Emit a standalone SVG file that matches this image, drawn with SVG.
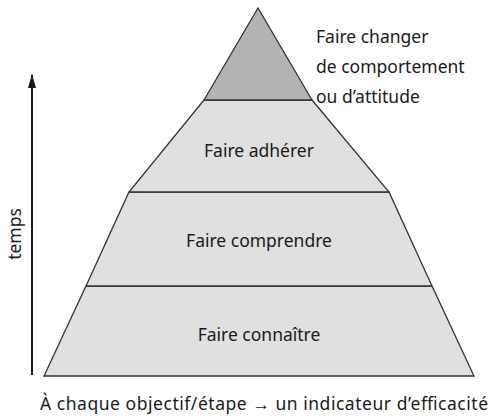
<svg xmlns="http://www.w3.org/2000/svg" width="492" height="420" viewBox="0 0 492 420">
<style>
text{font-family:"Noto Sans","Liberation Sans",sans-serif;font-size:17.5px;fill:#1a1a1a}
.c{text-anchor:middle}
.lvl{fill:#e0e0e0;stroke:#333;stroke-width:1.3}
.top{fill:#b3b3b3;stroke:#333;stroke-width:1.3}
</style>
<defs>
<marker id="ah" markerWidth="14" markerHeight="8" refX="0" refY="0" orient="auto" markerUnits="userSpaceOnUse" viewBox="-13 -4 14 8">
<path d="M-13,-4 L1,0 L-13,4 Z" fill="#1a1a1a"/>
</marker>
</defs>
<g id="level4">
<polygon class="lvl" points="44,376 474,376 432,286 86,286"/>
<text class="c" x="259" y="341">Faire connaître</text>
</g>
<g id="level3">
<polygon class="lvl" points="86,286 432,286 389,192 129,192"/>
<text class="c" x="259" y="247">Faire comprendre</text>
</g>
<g id="level2">
<polygon class="lvl" points="129,192 389,192 312,100 204,100"/>
<text class="c" x="259" y="157">Faire adhérer</text>
</g>
<g id="level1">
<polygon class="top" points="204,100 312,100 258,8"/>
<text x="316" y="43">Faire changer</text>
<text x="316" y="73">de comportement</text>
<text x="316" y="103">ou d’attitude</text>
</g>
<g id="connectors">
<line x1="32" y1="375" x2="32" y2="75" stroke="#1a1a1a" stroke-width="2" marker-end="url(#ah)"/>
</g>
<g id="axis-label">
<text class="c" transform="translate(21,234) rotate(-90)">temps</text>
</g>
<g id="caption">
<text x="40" y="410" textLength="448" lengthAdjust="spacing">À chaque objectif/étape → un indicateur d’efficacité</text>
</g>
</svg>
